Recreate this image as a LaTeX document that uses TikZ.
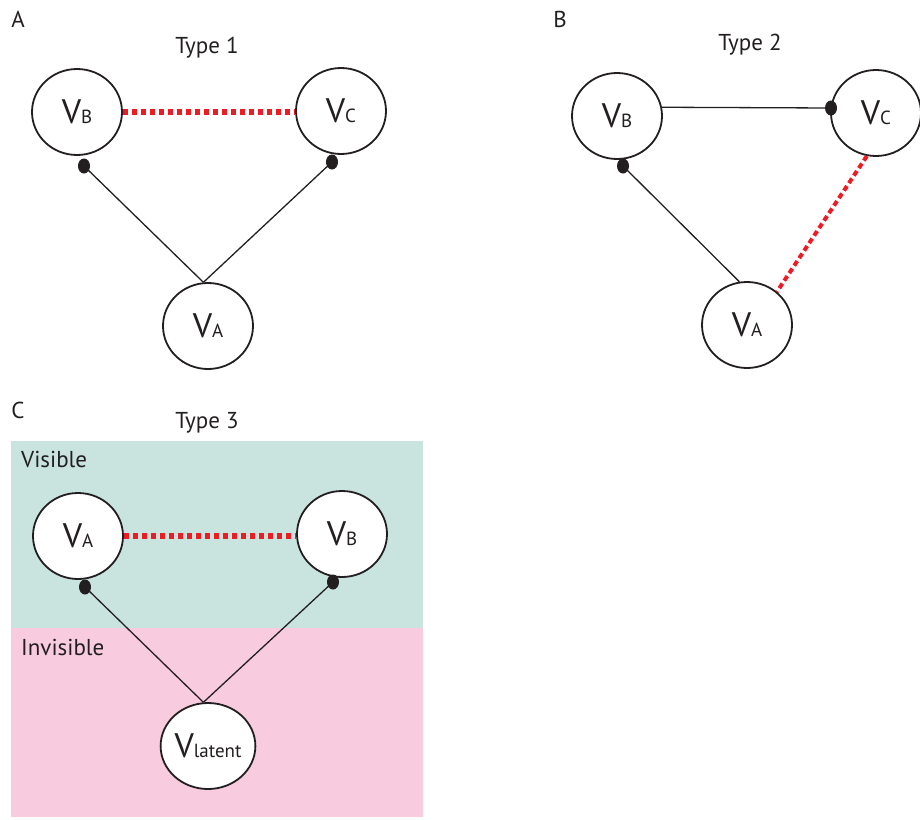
\documentclass[tikz,border=0pt]{standalone}
\usepackage{fontspec}
\setmainfont{PT Sans}
\usetikzlibrary{shapes.geometric}
\definecolor{tealbg}{RGB}{201,227,223}
\definecolor{pinkbg}{RGB}{248,204,222}
\definecolor{redl}{RGB}{237,28,36}
\definecolor{ink}{RGB}{35,31,32}
\newcommand\subl[1]{{\fontsize{19}{19}\selectfont #1}}
\begin{document}
\begin{tikzpicture}[x=1pt,y=-1pt,
  vnode/.style={ellipse,draw=ink,line width=1.8pt,fill=white,minimum width=90pt,minimum height=86pt,inner sep=0pt,text=ink,font=\fontsize{34}{34}\selectfont},
  dotnode/.style={ellipse,fill=ink,minimum width=12pt,minimum height=15pt,inner sep=0pt},
  conn/.style={draw=ink,line width=1.3pt},
  reddot/.style={draw=redl,line width=5.5pt,dash pattern=on 5.5pt off 3.5pt},
  reddash/.style={draw=redl,line width=4pt,dash pattern=on 5.5pt off 3.5pt},
  lbl/.style={text=ink,font=\fontsize{23}{23}\selectfont,inner sep=0pt}]
\useasboundingbox (0,0) rectangle (920,819);
% backgrounds for C
\fill[tealbg] (11,441) rectangle (423,628);
\fill[pinkbg] (11,628) rectangle (423,817);
% labels
\node[lbl] (labA) at (18,19) {A};
\node[lbl] (t1) at (207,48) {Type 1};
\node[lbl] (labB) at (560,19) {B};
\node[lbl] (t2) at (750,45) {Type 2};
\node[lbl] (labC) at (18,410) {C};
\node[lbl] (t3) at (207,423) {Type 3};
\node[lbl,anchor=west] (vis) at (21,459) {Visible};
\node[lbl,anchor=west] (invis) at (21,647) {Invisible};
% Panel A
\node[vnode] (aB) at (77,112) {V\subl{B}};
\node[vnode] (aC) at (341,111) {V\subl{C}};
\node[vnode] (aA) at (208,326) {V\subl{A}};
\coordinate (aBdc) at (84,166);
\coordinate (aCdc) at (332,162);
\draw[conn] (aBdc) -- (aA.96);
\draw[conn] (aCdc) -- (aA.96);
\node[dotnode] (aBd) at (aBdc) {};
\node[dotnode] (aCd) at (aCdc) {};
\draw[reddot] (aB.east) -- (aB.east -| aC.west);
% Panel B
\node[vnode] (bB) at (617,116) {V\subl{B}};
\node[vnode] (bC) at (876,113) {V\subl{C}};
\node[vnode] (bA) at (747,325) {V\subl{A}};
\coordinate (bBdc) at (623,166);
\coordinate (bCdc) at (831,108);
\draw[conn] (bB.11) -- (bCdc);
\draw[conn] (bBdc) -- (bA.100);
\node[dotnode] (bBd) at (bBdc) {};
\node[dotnode] (bCd) at (bCdc) {};
\draw[reddash] (bC.258) -- (bA.48);
% Panel C
\node[vnode] (cA) at (78,536) {V\subl{A}};
\node[vnode] (cB) at (342,534) {V\subl{B}};
\node[vnode] (cL) at (208,746) {V\subl{latent}};
\coordinate (cAdc) at (85,587);
\coordinate (cBdc) at (333,582);
\draw[conn] (cAdc) -- (cL.96);
\draw[conn] (cBdc) -- (cL.96);
\node[dotnode] (cAd) at (cAdc) {};
\node[dotnode] (cBd) at (cBdc) {};
\draw[reddot] (cA.east) -- (cA.east -| cB.west);
\end{tikzpicture}
\end{document}
